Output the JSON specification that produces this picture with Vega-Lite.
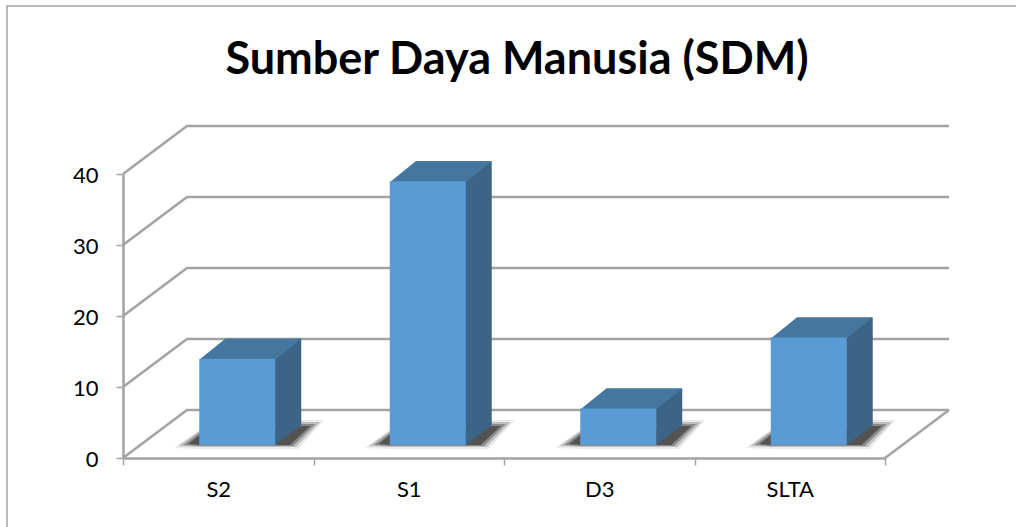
{
"$schema":"https://vega.github.io/schema/vega-lite/v6.json",
"width":762,"height":284,
"autosize":{"type":"none"},
"padding":{"left":123,"top":174,"right":131,"bottom":69},
"background":"white",
"config":{"view":{"stroke":null},"font":"Lato"},
"title":{"text":"Sumber Daya Manusia (SDM)","font":"Lato","fontWeight":"bold","fontSize":45,"color":"#000000","anchor":"middle","frame":"group","dx":13,"offset":-80},
"data":{"values":[{"jenjang":"S2","jumlah":12},{"jenjang":"S1","jumlah":37},{"jenjang":"D3","jumlah":5},{"jenjang":"SLTA","jumlah":15}]},
"layer":[
{"data":{"values":[{"g":0},{"g":10},{"g":20},{"g":30},{"g":40}]},
 "mark":{"type":"point","shape":"M0,0L1.28,-0.96L16.52,-0.96","size":10000,"filled":false,"stroke":"#a3a3a3","strokeWidth":2.5,"opacity":1},
 "encoding":{"x":{"datum":"S2","bandPosition":0,"type":"nominal","title":null,
 "scale":{"type":"band","domain":["S2","S1","D3","SLTA"],"paddingInner":0,"paddingOuter":0},
 "axis":{"title":null,"tickBand":"extent","labelAngle":0,"labelFont":"Lato","labelFontSize":22,"labelColor":"#000000","labelPadding":14,"tickSize":7,"tickWidth":1.5,"tickColor":"#a3a3a3","domainColor":"#a3a3a3","domainWidth":2.5}},
 "y":{"field":"g","type":"quantitative","title":null,"scale":{"domain":[0,40],"nice":false},
 "axis":{"title":null,"values":[0,10,20,30,40],"grid":false,"labelFont":"Lato","labelFontSize":22,"labelColor":"#000000","labelPadding":18,"labelOffset":1,"tickSize":7,"tickWidth":1.5,"tickColor":"#a3a3a3","domainColor":"#a3a3a3","domainWidth":2.5}}}},
{"data":{"values":[{"g":0}]},
 "mark":{"type":"point","shape":"M0,0L1.28,-0.96","size":10000,"filled":false,"stroke":"#a3a3a3","strokeWidth":2.5,"opacity":1},
 "encoding":{"x":{"datum":"SLTA","bandPosition":1,"type":"nominal","title":null},"y":{"field":"g","type":"quantitative","title":null}}},
{"data":{"values":[{"g":40}]},
 "mark":{"type":"point","shape":"M-2.32,7.06L-2.32,-3.36L17.86,-3.36","size":10000,"filled":false,"stroke":"#a3a3a3","strokeWidth":1.5,"opacity":1},
 "encoding":{"x":{"datum":"S2","bandPosition":0,"type":"nominal","title":null},"y":{"field":"g","type":"quantitative","title":null}}},
{"mark":{"type":"point","shape":"M-0.88,-0.2L-0.38,-0.56L1.68,-0.76L2.12,-0.76L1.6,-0.18L-0.38,-0.18Z","size":10000,"filled":true,"fill":"#000000","fillOpacity":0.08,"strokeWidth":0,"opacity":1},
 "encoding":{"x":{"field":"jenjang","type":"nominal","title":null},"y":{"datum":0,"title":null}}},
{"mark":{"type":"point","shape":"M-0.8,-0.24L-0.38,-0.54L1.68,-0.72L2.04,-0.72L1.56,-0.22L-0.38,-0.22Z","size":10000,"filled":true,"fill":"#000000","fillOpacity":0.18,"strokeWidth":0,"opacity":1},
 "encoding":{"x":{"field":"jenjang","type":"nominal","title":null},"y":{"datum":0,"title":null}}},
{"mark":{"type":"point","shape":"M-0.7,-0.26L-0.38,-0.5L1.68,-0.68L1.94,-0.68L1.5,-0.24L-0.38,-0.24Z","size":10000,"filled":true,"fill":"#000000","fillOpacity":0.28,"strokeWidth":0,"opacity":1},
 "encoding":{"x":{"field":"jenjang","type":"nominal","title":null},"y":{"datum":0,"title":null}}},
{"mark":{"type":"point","shape":"M-0.6,-0.28L-0.38,-0.46L1.68,-0.64L1.84,-0.64L1.44,-0.26L-0.38,-0.26Z","size":10000,"filled":true,"fill":"#000000","fillOpacity":0.4,"strokeWidth":0,"opacity":1},
 "encoding":{"x":{"field":"jenjang","type":"nominal","title":null},"y":{"datum":0,"title":null}}},
{"mark":{"type":"bar","size":76,"xOffset":45,"yOffset":-34,"y2Offset":-33,"color":"#3c6487"},"encoding":{"x":{"field":"jenjang","type":"nominal","title":null},"y":{"field":"jumlah","type":"quantitative","title":null},"y2":{"datum":0}}},
{"mark":{"type":"point","shape":"M1.14,-0.26L1.66,-0.66L1.14,-0.66Z","size":10000,"filled":true,"fill":"#3c6487","opacity":1,"strokeWidth":0},
 "encoding":{"x":{"field":"jenjang","type":"nominal","title":null},"y":{"datum":0,"title":null}}},
{"mark":{"type":"point","shape":"M-0.38,-0.26L1.14,-0.26L1.66,-0.68L0.14,-0.68Z","size":10000,"filled":true,"fill":"#44769f","opacity":1,"strokeWidth":0},
 "encoding":{"x":{"field":"jenjang","type":"nominal","title":null},"y":{"field":"jumlah","type":"quantitative","title":null}}},
{"mark":{"type":"bar","size":76,"xOffset":19,"yOffset":-14,"y2Offset":-13,"color":"#5b9bd5"},"encoding":{"x":{"field":"jenjang","type":"nominal","title":null},"y":{"field":"jumlah","type":"quantitative","title":null},"y2":{"datum":0}}}
]
}
